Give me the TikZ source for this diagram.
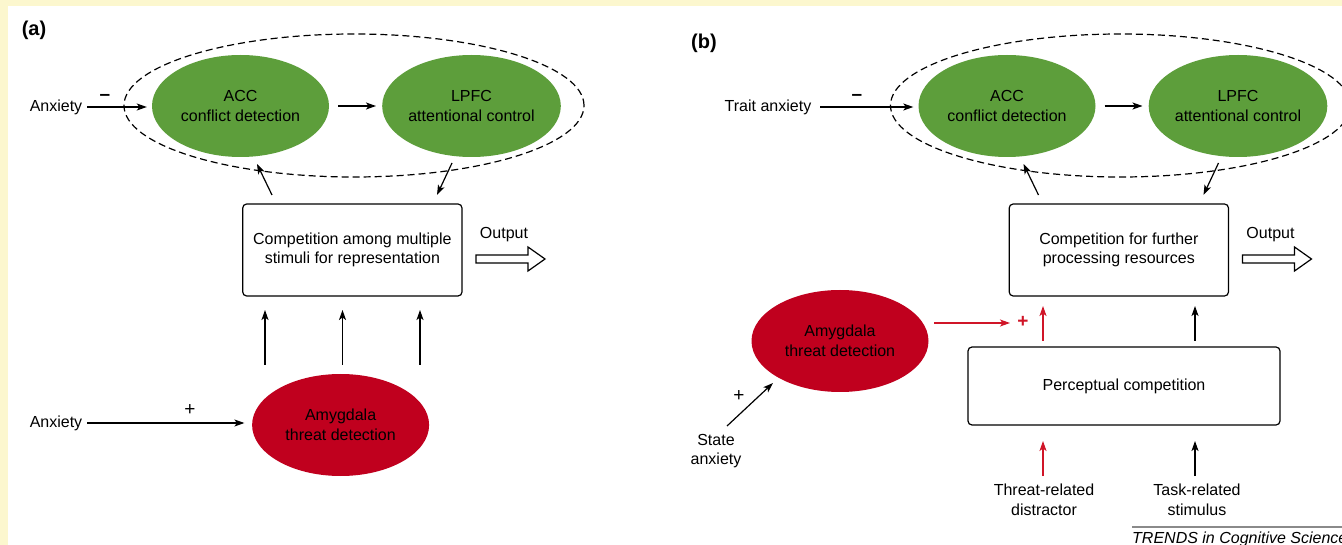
\documentclass[tikz,border=0pt]{standalone}
\usepackage{fontspec}
\setmainfont{Liberation Sans}
\usetikzlibrary{shapes.geometric,arrows.meta,calc}
\definecolor{cream}{HTML}{FCF7CE}
\definecolor{leafgreen}{HTML}{5D9E3B}
\definecolor{bloodred}{HTML}{C0001E}
\definecolor{arrowred}{HTML}{D01528}
\definecolor{rulegray}{HTML}{8A8A8A}
\begin{document}
\begin{tikzpicture}[x=1pt,y=-1pt,
  txt/.style={inner sep=0pt, align=center, font=\fontsize{16}{19.5}\selectfont},
  sign/.style={inner sep=0pt, font=\fontsize{19}{20}\selectfont},
  oval/.style={ellipse, inner sep=0pt, minimum width=177pt, minimum height=102pt, align=center, font=\fontsize{16}{19.5}\selectfont},
  greenoval/.style={oval, fill=leafgreen},
  redoval/.style={oval, fill=bloodred},
  ring/.style={ellipse, draw, dashed, dash pattern=on 7pt off 4pt, line width=1.2pt, minimum width=460pt, minimum height=143pt, inner sep=0pt},
  procbox/.style={draw, rounded corners=4pt, line width=1.2pt, align=center, inner sep=0pt, font=\fontsize{16}{19.5}\selectfont},
  arr/.style={line width=1.2pt, -{Stealth[length=10pt,width=7pt,inset=2.5pt]}},
  redarr/.style={arr, draw=arrowred, fill=arrowred},
  hollowarr/.style={draw, line width=1.2pt, fill=white, line join=miter},
  panellabel/.style={inner sep=0pt, font=\fontsize{20}{22}\selectfont\bfseries}
]
\clip (0,0) rectangle (1342,545);
\useasboundingbox (0,0) rectangle (1342,545);
\fill[cream] (0,0) rectangle (1342,545);
\fill[white] (8,6) rectangle (1342,545);

% ---------------- panel (a) ----------------
\node[panellabel] (lblA) at (34,30.5) {(a)};
\node[ring] (ringL) at (354,105.5) {};
\node[greenoval] (accL) at (240.5,106) {ACC\\conflict detection};
\node[greenoval] (lpfcL) at (471.5,106) {LPFC\\attentional control};
\node[procbox, minimum width=219.3pt, minimum height=92pt] (compL) at (352.35,250) {Competition among multiple\\stimuli for representation};
\node[redoval] (amyL) at (340.6,425) {Amygdala\\threat detection};
\node[txt] (anxTop) at (56,107) {Anxiety};
\node[txt] (anxBot) at (56,423) {Anxiety};
\node[sign, font=\fontsize{19}{20}\selectfont\bfseries] (minusL) at (105,97) {–};
\node[sign] (plusL) at (190,410) {+};
\node[txt] (outL) at (504,235) {Output};

\draw[arr, shorten <=5pt, shorten >=5pt] (anxTop.east) -- (anxTop.east -| accL.west);
\draw[arr, shorten <=9pt, shorten >=6pt] (accL.east) -- (lpfcL.west);
\coordinate (cL1) at (272,195); \coordinate (aL1) at (257,164);
\draw[arr] (cL1) -- (aL1);
\coordinate (lL1) at (452,163); \coordinate (cL2) at (437,195);
\draw[arr] (lL1) -- (cL2);
\foreach \x/\n in {265/a,342.5/b,420/c} {
  \coordinate (upS\n) at (\x,365); \coordinate (upE\n) at (\x,310);
  \draw[arr] (upS\n) -- (upE\n);
}
\draw[arr, shorten <=5pt, shorten >=7.5pt] (anxBot.east) -- (anxBot.east -| amyL.west);
\draw[hollowarr] (476,255) -- (528,255) -- (528,247) -- (545,259) -- (528,271) -- (528,263) -- (476,263) -- cycle;

% ---------------- panel (b) ----------------
\node[panellabel] (lblB) at (704,43) {(b)};
\node[ring] (ringR) at (1120.5,105.5) {};
\node[greenoval] (accR) at (1007,106) {ACC\\conflict detection};
\node[greenoval] (lpfcR) at (1238,106) {LPFC\\attentional control};
\node[procbox, minimum width=219.3pt, minimum height=92pt] (compR) at (1118.85,250) {Competition for further\\processing resources};
\node[redoval] (amyR) at (840,341) {Amygdala\\threat detection};
\node[procbox, minimum width=312pt, minimum height=78pt] (percR) at (1124,386) {Perceptual competition};
\node[txt] (trait) at (768,107) {Trait anxiety};
\node[sign, font=\fontsize{19}{20}\selectfont\bfseries] (minusR) at (857,97) {–};
\node[txt] (outR) at (1270.5,235) {Output};
\node[txt] (stateR) at (716,451) {State\\anxiety};
\node[sign] (plusS) at (739,396) {+};
\node[sign, font=\fontsize{19}{20}\selectfont\bfseries, text=arrowred] (plusR) at (1023,322) {+};
\node[txt] (threatR) at (1044,500) {Threat-related\\distractor};
\node[txt] (taskR) at (1197,500) {Task-related\\stimulus};

\draw[arr, shorten <=9pt, shorten >=5pt] (trait.east) -- (trait.east -| accR.west);
\draw[arr, shorten <=9pt, shorten >=6pt] (accR.east) -- (lpfcR.west);
\coordinate (cR1) at (1038.5,195); \coordinate (aR1) at (1023.5,164);
\draw[arr] (cR1) -- (aR1);
\coordinate (lR1) at (1218.5,163); \coordinate (cR2) at (1203.5,195);
\draw[arr] (lR1) -- (cR2);
\draw[hollowarr] (1242.5,255) -- (1294.5,255) -- (1294.5,247) -- (1311.5,259) -- (1294.5,271) -- (1294.5,263) -- (1242.5,263) -- cycle;

\coordinate (rS) at (934,323); \coordinate (rE) at (1010,323);
\draw[redarr] (rS) -- (rE);
\coordinate (rU1) at (1043,341); \coordinate (rU2) at (1043,306);
\draw[redarr] (rU1) -- (rU2);
\coordinate (bU1) at (1195,341); \coordinate (bU2) at (1195,306);
\draw[arr] (bU1) -- (bU2);
\coordinate (rD1) at (1043,476); \coordinate (rD2) at (1043,441);
\draw[redarr] (rD1) -- (rD2);
\coordinate (bD1) at (1195,476); \coordinate (bD2) at (1195,441);
\draw[arr] (bD1) -- (bD2);
\coordinate (sS) at (727,426); \coordinate (sE) at (773,383);
\draw[arr] (sS) -- (sE);

% ---------------- credit ----------------
\coordinate (tl1) at (1132,527); \coordinate (tl2) at (1342,527);
\draw[rulegray, line width=1.5pt] (tl1) -- (tl2);
\node[inner sep=0pt, anchor=base west, font=\fontsize{16}{19}\selectfont\itshape] (credit) at (1132,543) {TRENDS in Cognitive Science};
\end{tikzpicture}
\end{document}
